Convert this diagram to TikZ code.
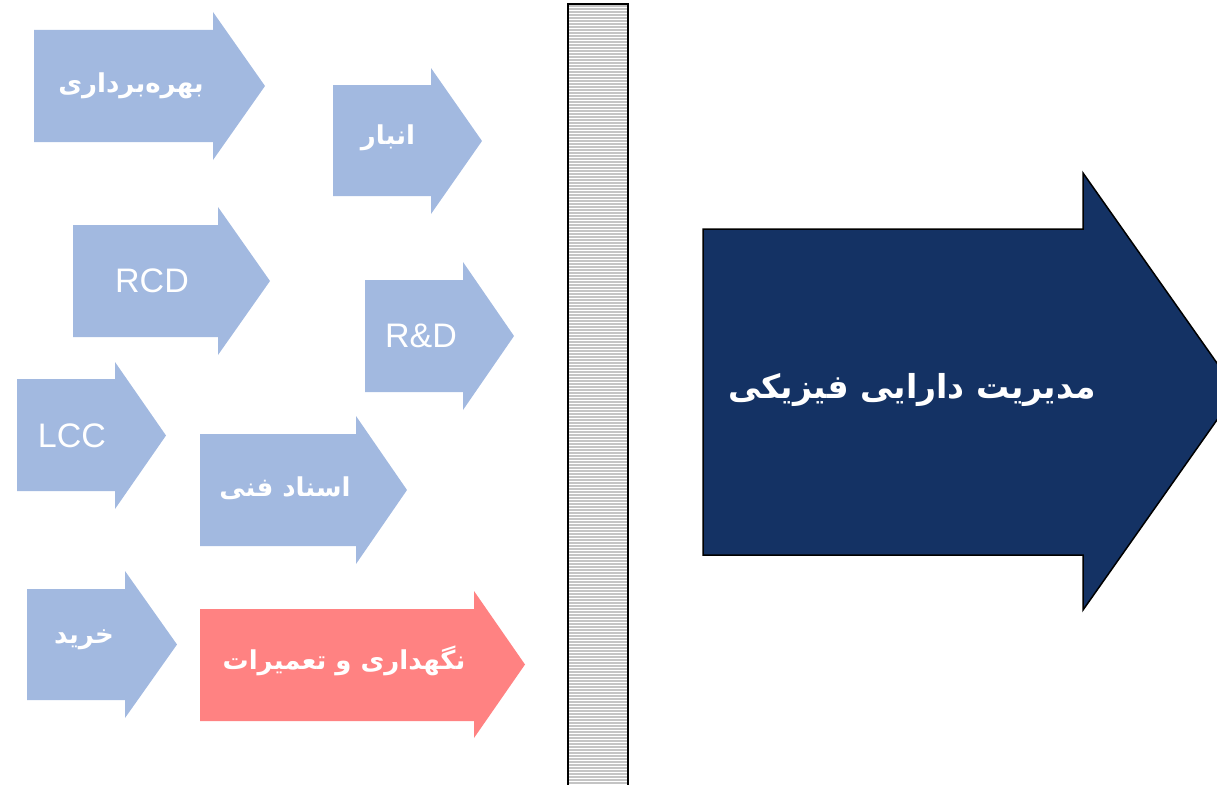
\documentclass[tikz,border=0pt]{standalone}
\usepackage{fontspec}
\setmainfont{Liberation Sans}
\newfontfamily\arabicfont[Script=Arabic]{DejaVu Sans}
\TeXXeTstate=1
\definecolor{lightb}{HTML}{A2B9E0}
\definecolor{pinkr}{HTML}{FF8282}
\definecolor{navy}{HTML}{143264}
\definecolor{stripe}{HTML}{C4C4C4}
\newcommand{\blkarrow}[8]{%
  \fill[#1] (#2,#3) -- (#5,#3) -- (#5,#6) -- (#8,{(#6+#7)/2}) -- (#5,#7) -- (#5,#4) -- (#2,#4) -- cycle;}
\tikzset{
  lat/.style={text=white, font=\fontsize{34}{40}\selectfont, inner sep=0pt},
  fa/.style={text=white, font=\arabicfont\bfseries\fontsize{26}{30}\selectfont, inner sep=0pt},
  fabig/.style={text=white, font=\arabicfont\bfseries\fontsize{33}{40}\selectfont, inner sep=0pt}
}
\begin{document}
\begin{tikzpicture}[x=1pt,y=-1pt]
\useasboundingbox (0,0) rectangle (1217,784);
% small arrows
\blkarrow{lightb}{34}{30}{142}{213}{12}{160}{265}
\blkarrow{lightb}{333}{85}{196}{431}{68}{214}{482}
\blkarrow{lightb}{73}{225}{337}{218}{207}{355}{270}
\blkarrow{lightb}{365}{280}{392}{463}{262}{410}{514}
\blkarrow{lightb}{17}{379}{491}{115}{362}{509}{166}
\blkarrow{lightb}{200}{434}{546}{356}{416}{564}{407}
\blkarrow{lightb}{27}{589}{700}{125}{571}{718}{177}
\blkarrow{pinkr}{200}{609}{721}{474}{591}{738}{525}
% texts
\node[fa] (t1) at (131,86) {\beginR بهره‌برداری\endR};
\node[fa] (t2) at (388,138) {\beginR انبار\endR};
\node[lat] (t3) at (152,281) {RCD};
\node[lat] (t4) at (421,336) {R\&D};
\node[lat] (t5) at (72,436) {LCC};
\node[fa] (t6) at (285,488) {\beginR اسناد فنی\endR};
\node[fa] (t7) at (84,640) {\beginR خرید\endR};
\node[fa] (t8) at (344,661) {\beginR نگهداری و تعمیرات\endR};
% wall
\begin{scope}
\clip (568,4) rectangle (628,790);
\fill[white] (568,4) rectangle (628,790);
\foreach \y in {6,9,...,790} \draw[stripe, line width=1.4pt] (568,\y) -- (628,\y);
\end{scope}
\draw[line width=2.5pt] (568,800) -- (568,4) -- (628,4) -- (628,800);
% big arrow
\draw[fill=navy, line width=1.5pt, line join=miter] (703,229) -- (1083,229) -- (1083,173) -- (1237,391.5) -- (1083,610) -- (1083,555) -- (703,555) -- cycle;
\node[fabig] (big) at (912,390) {\beginR مدیریت دارایی فیزیکی\endR};
\end{tikzpicture}
\end{document}
